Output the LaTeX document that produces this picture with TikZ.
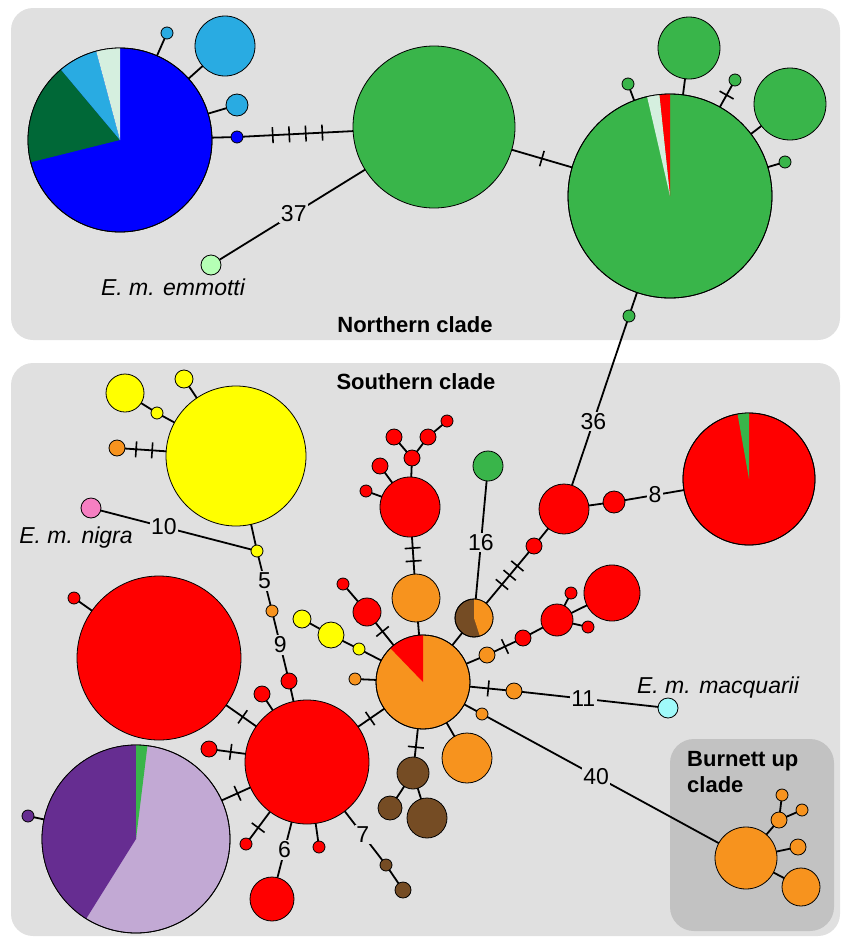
\documentclass[tikz,border=0pt]{standalone}
\usepackage{fontspec}
\setmainfont{Liberation Sans}
\definecolor{bgg}{HTML}{E0E0E0}
\definecolor{bub}{HTML}{C2C2C2}
\definecolor{cblue}{HTML}{0000FF}
\definecolor{cdkg}{HTML}{006837}
\definecolor{clb}{HTML}{29ABE2}
\definecolor{cmint}{HTML}{D5EFDF}
\definecolor{cgr}{HTML}{39B54A}
\definecolor{clg}{HTML}{B5FFB5}
\definecolor{cred}{HTML}{FF0000}
\definecolor{cyel}{HTML}{FFFF00}
\definecolor{cor}{HTML}{F7931E}
\definecolor{cbr}{HTML}{754C24}
\definecolor{cpu}{HTML}{662D91}
\definecolor{cli}{HTML}{C2A9D4}
\definecolor{cpk}{HTML}{F67FC2}
\definecolor{ccy}{HTML}{A0FAFA}
\tikzset{
 hap/.style={circle, draw=black, line width=0.8pt, inner sep=0pt, outer sep=0pt, minimum size=2*#1},
 link/.style={line width=1.8pt},
 mut/.style={draw, line width=1.6pt, sloped, inner sep=0pt, outer sep=0pt, minimum width=0pt, minimum height=16pt, shape=rectangle},
 num/.style={fill=bgg, inner sep=1.5pt, font=\fontsize{23}{26}\selectfont},
 taxon/.style={font=\itshape\fontsize{23}{26}\selectfont},
 clade/.style={font=\bfseries\fontsize{22}{26}\selectfont},
}
\newcommand\hp[4]{\node[hap=#3, fill=#4] (#1) at (#2) {};}
\newcommand\hslice[5]{\fill[#5] (#1.center) -- ++(#3:#2pt) arc[start angle=#3, end angle=#4, radius=#2pt] -- cycle;}
\newcommand\hout[2]{\draw[line width=0.8pt] (#1.center) circle[radius=#2pt];}
\begin{document}
\begin{tikzpicture}[x=1pt,y=-1pt]
\useasboundingbox (0,0) rectangle (841,937);
% backgrounds
\fill[bgg, rounded corners=22pt] (11,8) rectangle (840,340);
\fill[bgg, rounded corners=22pt] (11,363) rectangle (840,936);
\fill[bub, rounded corners=24pt] (670,739) rectangle (834,931);
% ---------------- Northern clade
\hp{N1}{120,140}{92}{cblue}
\hslice{N1}{92}{130}{194}{cdkg}
\hslice{N1}{92}{105}{130}{clb}
\hslice{N1}{92}{90}{105}{cmint}
\hout{N1}{92}
\hp{lbA}{167,33}{6}{clb}
\hp{lbB}{225,46}{30}{clb}
\hp{lbC}{237,105}{11}{clb}
\hp{dbA}{237,137}{6}{cblue}
\hp{G1}{434,127}{81}{cgr}
\hp{em}{211,265}{10}{clg}
\hp{G2}{670,196}{102}{cgr}
\hslice{G2}{102}{90}{96}{cred}
\hslice{G2}{102}{96}{103}{cmint}
\hout{G2}{102}
\hp{gT}{689,48}{31}{cgr}
\hp{gA}{628,84}{6}{cgr}
\hp{gB}{735,80}{6}{cgr}
\hp{gR}{790,104}{36}{cgr}
\hp{gC}{785,162}{6}{cgr}
\hp{gD}{629,316}{6}{cgr}
% ---------------- Southern clade
\hp{Y}{236,456}{70}{cyel}
\hp{yM}{125,393}{19}{cyel}
\hp{yA}{157,413}{6}{cyel}
\hp{yB}{184,379}{9}{cyel}
\hp{oL}{117,448}{8}{cor}
\hp{pk}{91,508}{10}{cpk}
\hp{yC}{257,551}{6}{cyel}
\hp{oA}{272,611}{6}{cor}
\hp{rA}{289,681}{8}{cred}
\hp{RB}{307,762}{62}{cred}
\hp{RH}{159,658}{82}{cred}
\hp{rhs}{74,598}{6}{cred}
\hp{rB}{209,749}{8}{cred}
\hp{L}{136,839}{94}{cli}
\hslice{L}{94}{90}{238}{cpu}
\hslice{L}{94}{83}{90}{cgr}
\hout{L}{94}
\hp{pu}{28,816}{6}{cpu}
\hp{rC}{246,844}{6}{cred}
\hp{rD}{319,847}{6}{cred}
\hp{rM}{272,899}{22}{cred}
\hp{bA}{386,865}{6}{cbr}
\hp{bB}{403,890}{8}{cbr}
\hp{rE}{262,694}{8}{cred}
\hp{OC}{423,682}{47}{cor}
\hslice{OC}{47}{90}{134}{cred}
\hout{OC}{47}
\hp{oB}{355,679}{6}{cor}
\hp{yD}{359,649}{6}{cyel}
\hp{yE}{331,635}{13}{cyel}
\hp{yF}{302,619}{9}{cyel}
\hp{rM2}{367,612}{14}{cred}
\hp{rF}{343,584}{6}{cred}
\hp{OM}{416,598}{24}{cor}
\hp{RU}{410,507}{30}{cred}
\hp{rG}{412,458}{8}{cred}
\hp{rH}{394,437}{8}{cred}
\hp{rI}{428,437}{8}{cred}
\hp{rJ}{447,421}{6}{cred}
\hp{rK}{380,466}{8}{cred}
\hp{rL}{366,491}{6}{cred}
\hp{gr}{488,466}{15}{cgr}
\hp{BO}{474,618}{19}{cbr}
\hslice{BO}{19}{-72}{90}{cor}
\hout{BO}{19}
\hp{rN}{534,546}{8}{cred}
\hp{R1}{564,509}{25}{cred}
\hp{rO}{614,502}{11}{cred}
\hp{RG}{749,479}{66}{cred}
\hslice{RG}{66}{90}{100}{cgr}
\hout{RG}{66}
\hp{oC}{487,655}{8}{cor}
\hp{rP}{523,638}{8}{cred}
\hp{rM3}{557,620}{16}{cred}
\hp{rQ}{571,593}{6}{cred}
\hp{rR}{588,627}{6}{cred}
\hp{rLg}{612,593}{28}{cred}
\hp{oD}{514,691}{8}{cor}
\hp{cy}{668,708}{10}{ccy}
\hp{oE}{482,714}{6}{cor}
\hp{BU}{746,858}{31}{cor}
\hp{oM2}{467,758}{25}{cor}
\hp{brA}{413,773}{16}{cbr}
\hp{brB}{390,808}{12}{cbr}
\hp{brC}{427,818}{20}{cbr}
\hp{buA}{779,820}{8}{cor}
\hp{buB}{782,795}{6}{cor}
\hp{buC}{802,810}{6}{cor}
\hp{buD}{798,847}{8}{cor}
\hp{buE}{801,887}{19}{cor}
% ---------------- connectors, northern
\draw[link] (N1) -- (lbA);
\draw[link] (N1) -- (lbB);
\draw[link] (N1) -- (lbC);
\draw[link] (N1) -- (dbA);
\draw[link] (dbA) -- (G1) node[mut,pos=.27]{} node[mut,pos=.42]{} node[mut,pos=.57]{} node[mut,pos=.72]{};
\draw[link] (G1) -- (em) node[num,pos=.49]{37};
\draw[link] (G1) -- (G2) node[mut,pos=.5]{};
\draw[link] (G2) -- (gT);
\draw[link] (G2) -- (gA);
\draw[link] (G2) -- (gB) node[mut,pos=.55]{};
\draw[link] (G2) -- (gR);
\draw[link] (G2) -- (gC);
\draw[link] (G2) -- (gD);
\draw[link] (gD) -- (R1) node[num,pos=.61]{36};
% ---------------- connectors, southern
\draw[link] (Y) -- (yA);
\draw[link] (yA) -- (yM);
\draw[link] (Y) -- (yB);
\draw[link] (oL) -- (Y) node[mut,pos=.27]{} node[mut,pos=.66]{};
\draw[link] (pk) -- (yC) node[num,pos=.42]{10};
\draw[link] (Y) -- (yC);
\draw[link] (yC) -- (oA) node[num,pos=.5]{5};
\draw[link] (oA) -- (rA) node[num,pos=.5]{9};
\draw[link] (rA) -- (RB);
\draw[link] (RH) -- (rhs);
\draw[link] (RH) -- (RB) node[mut,pos=.55]{};
\draw[link] (rB) -- (RB) node[mut,pos=.48]{};
\draw[link] (L) -- (RB) node[mut,pos=.55]{};
\draw[link] (L) -- (pu);
\draw[link] (rC) -- (RB) node[mut,pos=.42]{};
\draw[link] (RB) -- (rD);
\draw[link] (RB) -- (rM) node[num,pos=.5]{6};
\draw[link] (RB) -- (bA) node[num,pos=.48]{7};
\draw[link] (bA) -- (bB);
\draw[link] (RB) -- (rE);
\draw[link] (OC) -- (RB) node[mut,pos=.54]{};
\draw[link] (OC) -- (oB);
\draw[link] (OC) -- (yD);
\draw[link] (yD) -- (yE);
\draw[link] (yE) -- (yF);
\draw[link] (OC) -- (rM2) node[mut,pos=.62]{};
\draw[link] (rM2) -- (rF);
\draw[link] (OC) -- (OM);
\draw[link] (OM) -- (RU) node[mut,pos=.35]{} node[mut,pos=.7]{};
\draw[link] (RU) -- (rG);
\draw[link] (rG) -- (rH);
\draw[link] (rG) -- (rI);
\draw[link] (rI) -- (rJ);
\draw[link] (RU) -- (rK);
\draw[link] (RU) -- (rL);
\draw[link] (gr) -- (BO) node[num,pos=.52]{16};
\draw[link] (OC) -- (BO);
\draw[link] (BO) -- (rN) node[mut,pos=.37]{} node[mut,pos=.55]{} node[mut,pos=.73]{};
\draw[link] (rN) -- (R1);
\draw[link] (R1) -- (rO);
\draw[link] (rO) -- (RG) node[num,pos=.51]{8};
\draw[link] (OC) -- (oC);
\draw[link] (oC) -- (rP) node[mut,pos=.5]{};
\draw[link] (rP) -- (rM3);
\draw[link] (rM3) -- (rQ);
\draw[link] (rM3) -- (rR);
\draw[link] (rM3) -- (rLg);
\draw[link] (OC) -- (oD) node[mut,pos=.51]{};
\draw[link] (oD) -- (cy) node[num,pos=.45]{11};
\draw[link] (OC) -- (oE);
\draw[link] (oE) -- (BU) node[num,pos=.47]{40};
\draw[link] (OC) -- (oM2);
\draw[link] (OC) -- (brA) node[mut,pos=.65]{};
\draw[link] (brA) -- (brB);
\draw[link] (brA) -- (brC);
\draw[link] (BU) -- (buA);
\draw[link] (buA) -- (buB);
\draw[link] (buA) -- (buC);
\draw[link] (BU) -- (buD);
\draw[link] (BU) -- (buE);
% ---------------- texts
\node[clade, anchor=base] (tN) at (415,332) {Northern clade};
\node[clade, anchor=base] (tS) at (416,389) {Southern clade};
\node[clade, anchor=north west, align=left, inner sep=0pt] (tB) at (687,751) {Burnett up\\clade};
\node[taxon, anchor=base] (tE) at (173,295) {E. m. emmotti};
\node[taxon, anchor=base] (tNi) at (76,543) {E. m. nigra};
\node[taxon, anchor=base] (tM) at (718,693) {E. m. macquarii};
\end{tikzpicture}
\end{document}
